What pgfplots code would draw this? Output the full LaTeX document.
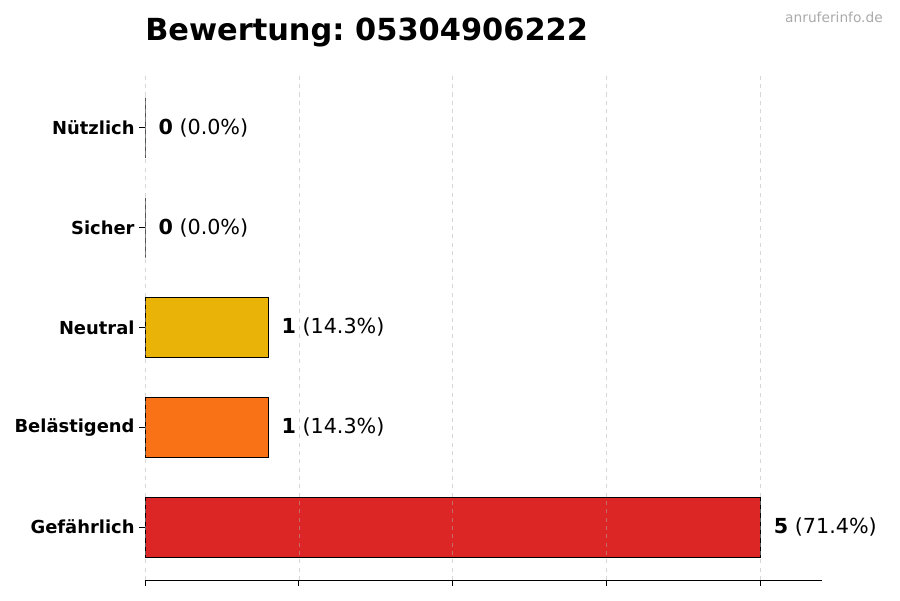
\documentclass[border=0pt]{standalone}
\usepackage{fontspec}
\setmainfont{DejaVu Sans}
\usepackage{pgfplots}
\pgfplotsset{compat=1.18}
\definecolor{cGefahr}{HTML}{DC2626}
\definecolor{cBelaest}{HTML}{F97316}
\definecolor{cNeutral}{HTML}{EAB308}
\definecolor{cSicher}{HTML}{22C55E}
\definecolor{cNuetz}{HTML}{16A34A}
\definecolor{wmgray}{HTML}{AAAAAA}
\definecolor{gridgray}{HTML}{B0B0B0}
\frenchspacing

\begin{document}
\begin{tikzpicture}
\path[use as bounding box] (0,0) rectangle (648pt,432pt);
\node[anchor=base west, font=\fontsize{21.9}{24}\selectfont\bfseries, inner sep=0pt]
  at (104.4pt,402.5pt) {Bewertung: 05304906222};
\node[anchor=base east, font=\fontsize{9.9}{11}\selectfont, text=wmgray, inner sep=0pt]
  at (635.8pt,416pt) {anruferinfo.de};
\begin{axis}[
  at={(104.4pt,14.4pt)}, anchor=south west,
  width=487.4pt, height=363.6pt, scale only axis,
  xmin=0, xmax=5.5, ymin=-0.53, ymax=4.53,
  xbar, bar width=0.6, bar shift=0pt,
  axis on top,
  axis x line*=bottom, axis y line*=left,
  axis line style={-},
  y axis line style={draw=none},
  xtick={0,1.25,2.5,3.75,5}, xticklabels={},
  ytick={0,1,2,3,4},
  yticklabels={Gefährlich,Belästigend,Neutral,Sicher,Nützlich},
  yticklabel style={font=\fontsize{12.9}{14}\selectfont\bfseries},
  tick align=outside, major tick length=4pt,
  tick style={black, line width=0.6pt},
  xmajorgrids,
  grid style={dashed, gridgray, opacity=0.5, line width=0.5pt},
  point meta=explicit symbolic,
  nodes near coords={\pgfplotspointmeta},
  every node near coord/.append style={anchor=west, inner sep=0pt, xshift=9.4pt,
    font=\fontsize{14.9}{16}\selectfont, text=black},
  clip=false,
]
\addplot[draw=black, line width=0.7pt, fill=cGefahr] coordinates {(5,0) [\textbf{5} (71.4\%)]};
\addplot[draw=black, line width=0.7pt, fill=cBelaest] coordinates {(1,1) [\textbf{1} (14.3\%)]};
\addplot[draw=black, line width=0.7pt, fill=cNeutral] coordinates {(1,2) [\textbf{1} (14.3\%)]};
\addplot[draw=black, line width=0.7pt, fill=cSicher] coordinates {(0,3) [\textbf{0} (0.0\%)]};
\addplot[draw=black, line width=0.7pt, fill=cNuetz] coordinates {(0,4) [\textbf{0} (0.0\%)]};
\end{axis}
\end{tikzpicture}
\end{document}
